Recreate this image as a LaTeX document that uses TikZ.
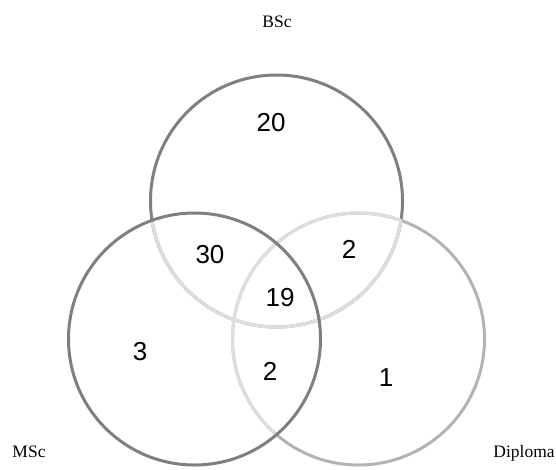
\documentclass[tikz,border=0pt]{standalone}
\usepackage{fontspec}
\setmainfont{Liberation Serif}
\newfontfamily\numfont{Liberation Sans}
\definecolor{ringdark}{HTML}{7F7F7F}
\definecolor{ringlight}{HTML}{B3B3B3}
\definecolor{ringpale}{HTML}{DEDEDE}

\begin{document}
\begin{tikzpicture}[x=1pt,y=-1pt,
        ring/.style={line width=3pt},
        count/.style={font=\numfont\fontsize{26}{26}\selectfont},
        setname/.style={anchor=base,font=\fontsize{17.5}{19}\selectfont}]
                \useasboundingbox (0,0) rectangle (556,469);
                \def\rad{126}
                \coordinate (bsc) at (276.5,201);
                \coordinate (msc) at (194.5,339);
                \coordinate (dip) at (358.5,339);

                % outer rings
                \draw[ring,ringdark] (bsc) circle[radius=\rad];
                \draw[ring,ringlight] (dip) circle[radius=\rad];

                % ring parts lying inside another set are paler
                \begin{scope}
                    \clip (msc) circle[radius=\rad];
                    \draw[ring,ringpale] (bsc) circle[radius=\rad];
                    \draw[ring,ringpale] (dip) circle[radius=\rad];
                \end{scope}
                \begin{scope}
                    \clip (dip) circle[radius=\rad];
                    \draw[ring,ringpale] (bsc) circle[radius=\rad];
                \end{scope}
                \begin{scope}
                    \clip (bsc) circle[radius=\rad];
                    \draw[ring,ringpale] (dip) circle[radius=\rad];
                \end{scope}
                \draw[ring,ringdark] (msc) circle[radius=\rad];

                % set names
                \node[setname] (bscname) at (277,27) {BSc};
                \node[setname] (mscname) at (29,457) {MSc};
                \node[setname] (dipname) at (524,457) {Diploma};

                % counts
                \node[count] (onlybsc) at (271,123) {20};
                \node[count] (bscmsc) at (210,255) {30};
                \node[count] (bscdip) at (349,249) {2};
                \node[count] (allthree) at (280,298) {19};
                \node[count] (onlymsc) at (140,352) {3};
                \node[count] (mscdip) at (270,371) {2};
                \node[count] (onlydip) at (386,378) {1};
            \end{tikzpicture}
\end{document}
